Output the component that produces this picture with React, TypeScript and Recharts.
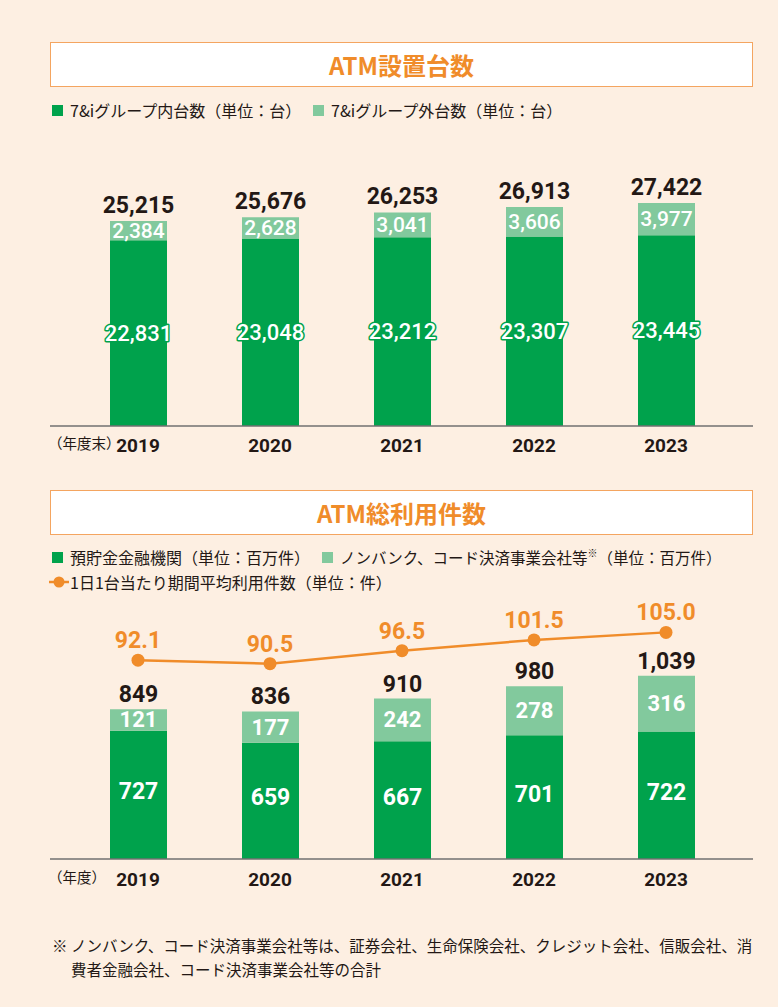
import React from 'react';
import { BarChart, ComposedChart, Bar, Line, XAxis, YAxis, LabelList } from 'recharts';

const years = ['2019', '2020', '2021', '2022', '2023'];
const atmInside = [22831, 23048, 23212, 23307, 23445];
const atmOutside = [2384, 2628, 3041, 3606, 3977];
const atmTotal = [25215, 25676, 26253, 26913, 27422];
const useBank = [727, 659, 667, 701, 722];
const useNonBank = [121, 177, 242, 278, 316];
const useTotal = [849, 836, 910, 980, 1039];
const dailyAvg = [92.1, 90.5, 96.5, 101.5, 105.0];

const DARK = '#00a24c';
const LIGHT = '#82c99d';
const ORANGE = '#f08c2a';
const TEXT = '#231815';
const AXIS = '#707070';
const BG = '#fdefe2';
const NUM_FONT = 'Roboto, "Noto Sans", sans-serif';
const JP_FONT = '"Noto Sans CJK JP", "Noto Sans", sans-serif';

const atmData = years.map((y, i) => ({
  year: y,
  inside: atmInside[i],
  outside: atmOutside[i],
  total: atmTotal[i],
}));

const useData = years.map((y, i) => ({
  year: y,
  bank: useBank[i],
  nonbank: useNonBank[i],
  total: useTotal[i],
  avg: dailyAvg[i],
}));

const fmt = (v: number) => v.toLocaleString('en-US');

function box(p: any) {
  const vb = p.viewBox || {};
  const x = p.x ?? vb.x;
  const y = p.y ?? vb.y;
  const width = p.width ?? vb.width;
  const height = p.height ?? vb.height;
  return { x: Number(x), y: Number(y), width: Number(width), height: Number(height) };
}

const makeTotalLabel = (fontSize: number, gap: number) => (p: any) => {
  const { x, y, width } = box(p);
  return (
    <text x={x + width / 2} y={y - gap} textAnchor="middle" fill={TEXT}
      style={{ fontFamily: NUM_FONT, fontWeight: 700, fontSize }}>
      {fmt(Number(p.value))}
    </text>
  );
};

const makeInnerLabel = (fontSize: number, weight: number, outline: boolean, dy: number) => (p: any) => {
  const { x, y, width, height } = box(p);
  return (
    <text x={x + width / 2} y={y + height / 2 + dy} textAnchor="middle" dominantBaseline="central"
      fill="#ffffff"
      stroke={outline ? DARK : 'none'} strokeWidth={outline ? 3 : 0}
      paintOrder="stroke" strokeLinejoin="round"
      style={{ fontFamily: NUM_FONT, fontWeight: weight, fontSize }}>
      {fmt(Number(p.value))}
    </text>
  );
};

const lineLabel = (p: any) => {
  const x = Number(p.x);
  const y = Number(p.y);
  return (
    <text x={x} y={y - 12} textAnchor="middle" fill={ORANGE}
      style={{ fontFamily: NUM_FONT, fontWeight: 700, fontSize: 23 }}>
      {Number(p.value).toFixed(1)}
    </text>
  );
};

const makeTick = (baseline: number) => (p: any) => (
  <text x={p.x} y={baseline} textAnchor="middle" fill={TEXT}
    style={{ fontFamily: NUM_FONT, fontWeight: 700, fontSize: 19 }}>
    {p.payload.value}
  </text>
);

const TitleBox = ({ top, text }: { top: number; text: string }) => (
  <div style={{
    position: 'absolute', left: 50, top, width: 703, height: 45, boxSizing: 'border-box',
    border: '1.5px solid #f4a560', background: '#ffffff', display: 'flex',
    alignItems: 'center', justifyContent: 'center', color: ORANGE,
    fontFamily: JP_FONT, fontWeight: 700, fontSize: 24,
  }}>{text}</div>
);

const Square = ({ left, top, color }: { left: number; top: number; color: string }) => (
  <div style={{ position: 'absolute', left, top, width: 11, height: 11, background: color }} />
);

const LegendText = ({ left, top, size, children }: { left: number; top: number; size: number; children: React.ReactNode }) => (
  <div style={{
    position: 'absolute', left, top, fontFamily: JP_FONT, fontSize: size, lineHeight: '20px',
    color: TEXT, whiteSpace: 'nowrap',
  }}>{children}</div>
);

export default function App() {
  return (
    <div style={{
      position: 'absolute', left: 0, top: 0, width: 778, height: 1007, background: BG, overflow: 'hidden',
    }}>
      <TitleBox top={42} text="ATM設置台数" />
      <Square left={52} top={105} color={DARK} />
      <LegendText left={70} top={100} size={16}>7&amp;iグループ内台数（単位：台）</LegendText>
      <Square left={313} top={105} color={LIGHT} />
      <LegendText left={331} top={100} size={16}>7&amp;iグループ外台数（単位：台）</LegendText>

      <div style={{ position: 'absolute', left: 0, top: 140 }}>
        <BarChart width={778} height={320} data={atmData}
          margin={{ top: 42, right: 25, bottom: 0, left: 50 }} barCategoryGap={0}>
          <XAxis dataKey="year" height={34} tickLine={false} stroke={AXIS} strokeWidth={1.5}
            padding={{ left: 22, right: 21 }} tick={makeTick(312)} interval={0} />
          <YAxis hide domain={[0, 30000]} />
          <Bar dataKey="inside" stackId="a" fill={DARK} barSize={57} isAnimationActive={false}>
            <LabelList dataKey="inside" content={makeInnerLabel(22, 500, true, 0)} />
          </Bar>
          <Bar dataKey="outside" stackId="a" fill={LIGHT} barSize={57} isAnimationActive={false}>
            <LabelList dataKey="outside" content={makeInnerLabel(21, 500, false, 0)} />
            <LabelList dataKey="total" content={makeTotalLabel(23, 8)} />
          </Bar>
        </BarChart>
      </div>
      <div style={{
        position: 'absolute', left: 48, top: 434, fontFamily: JP_FONT, fontSize: 14.5,
        lineHeight: '18px', color: TEXT,
      }}>（年度末）</div>

      <TitleBox top={490} text="ATM総利用件数" />
      <Square left={52} top={552} color={DARK} />
      <LegendText left={70} top={547} size={16}>預貯金金融機関（単位：百万件）</LegendText>
      <Square left={322} top={552} color={LIGHT} />
      <LegendText left={340} top={547} size={15.5}>
        ノンバンク、コード決済事業会社等<sup style={{ fontSize: 10, verticalAlign: 'top', lineHeight: '12px' }}>※</sup>（単位：百万件）
      </LegendText>
      <svg style={{ position: 'absolute', left: 49, top: 575 }} width={20} height={14}>
        <line x1={0} y1={7} x2={20} y2={7} stroke={ORANGE} strokeWidth={2.5} />
        <circle cx={10} cy={7} r={5.5} fill={ORANGE} />
      </svg>
      <LegendText left={70} top={572} size={16}>1日1台当たり期間平均利用件数（単位：件）</LegendText>

      <div style={{ position: 'absolute', left: 0, top: 580 }}>
        <ComposedChart width={778} height={320} data={useData}
          margin={{ top: 20, right: 25, bottom: 0, left: 50 }} barCategoryGap={0}>
          <XAxis dataKey="year" height={41} tickLine={false} stroke={AXIS} strokeWidth={1.5}
            padding={{ left: 22, right: 21 }} tick={makeTick(306)} interval={0} />
          <YAxis yAxisId="left" hide domain={[0, 1467]} />
          <YAxis yAxisId="right" orientation="right" hide domain={[0, 120]} />
          <Bar yAxisId="left" dataKey="bank" stackId="b" fill={DARK} barSize={57} isAnimationActive={false}>
            <LabelList dataKey="bank" content={makeInnerLabel(23, 700, false, -3)} />
          </Bar>
          <Bar yAxisId="left" dataKey="nonbank" stackId="b" fill={LIGHT} barSize={57} isAnimationActive={false}>
            <LabelList dataKey="nonbank" content={makeInnerLabel(22, 700, false, 0)} />
            <LabelList dataKey="total" content={makeTotalLabel(23, 7)} />
          </Bar>
          <Line yAxisId="right" dataKey="avg" stroke={ORANGE} strokeWidth={2.5}
            dot={{ r: 6.5, fill: ORANGE, stroke: 'none' }} isAnimationActive={false}>
            <LabelList dataKey="avg" content={lineLabel} />
          </Line>
        </ComposedChart>
      </div>
      <div style={{
        position: 'absolute', left: 48, top: 868, fontFamily: JP_FONT, fontSize: 14.5,
        lineHeight: '18px', color: TEXT,
      }}>（年度）</div>

      <div style={{
        position: 'absolute', left: 52, top: 933, fontFamily: JP_FONT, fontSize: 15.5,
        lineHeight: '24px', color: TEXT, whiteSpace: 'nowrap',
      }}>
        <div>※ ノンバンク、コード決済事業会社等は、証券会社、生命保険会社、クレジット会社、信販会社、消</div>
        <div style={{ paddingLeft: 19 }}>費者金融会社、コード決済事業会社等の合計</div>
      </div>
    </div>
  );
}
